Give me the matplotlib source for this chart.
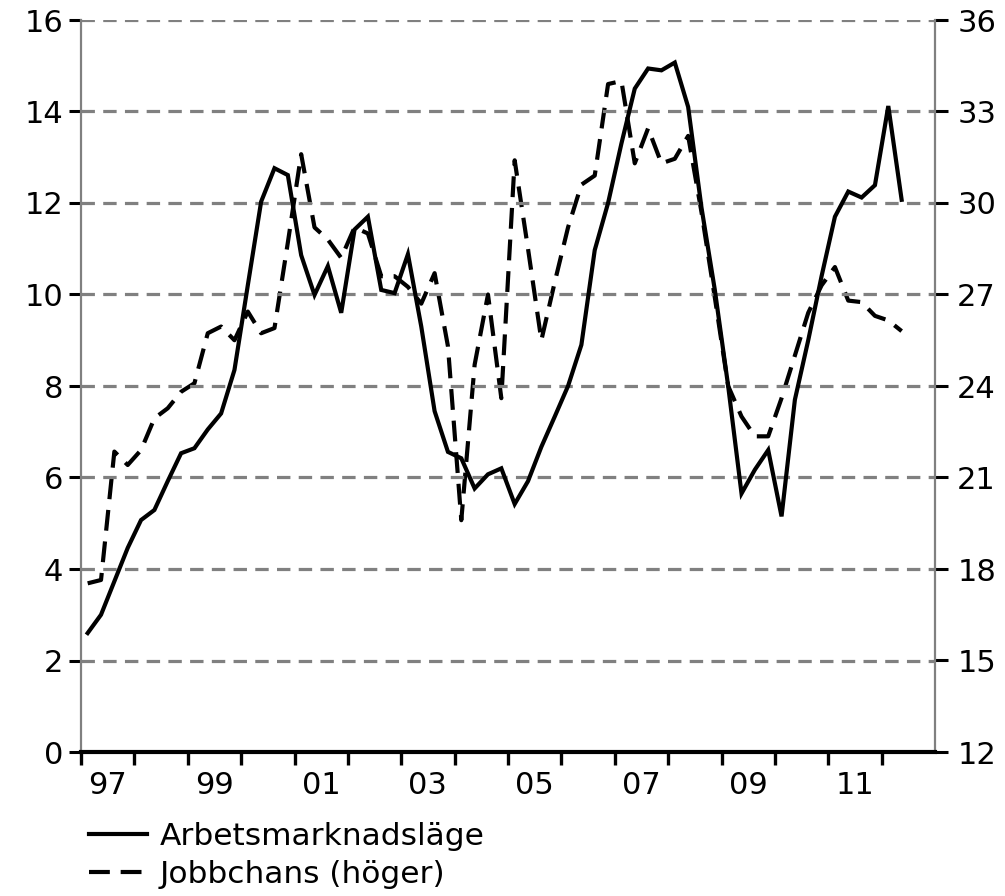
import matplotlib
matplotlib.use("Agg")
import matplotlib.pyplot as plt
import numpy as np

plt.rcParams['font.family'] = ['DejaVu Sans']

# Quarterly data 1997Q1 - 2012Q2
start_year = 1997
arbetsmarknadslage = [2.6, 3.0, 3.73, 4.46, 5.07, 5.29, 5.92, 6.53, 6.64, 7.05,
                      7.4, 8.35, 10.2, 12.03, 12.76, 12.61, 10.86, 9.99, 10.62, 9.6,
                      11.42, 11.7, 10.1, 10.03, 10.88, 9.3, 7.45, 6.56, 6.42, 5.76,
                      6.07, 6.2, 5.42, 5.92, 6.67, 7.33, 8.0, 8.9, 10.97, 12.0,
                      13.3, 14.5, 14.94, 14.9, 15.07, 14.1, 11.9, 10.1, 8.0, 5.65,
                      6.17, 6.6, 5.15, 7.7, 9.0, 10.4, 11.7, 12.25, 12.12, 12.39,
                      14.12, 12.07]
jobbchans = [17.53, 17.64, 21.85, 21.41, 21.9, 22.94, 23.27, 23.81, 24.09, 25.73,
             25.95, 25.5, 26.44, 25.73, 25.9, 28.7, 31.6, 29.2, 28.8, 28.2,
             29.2, 29.0, 27.6, 27.6, 27.25, 26.7, 27.7, 25.3, 19.6, 24.7,
             27.0, 23.6, 31.4, 28.5, 25.5, 27.4, 29.2, 30.6, 30.9, 33.9,
             34.0, 31.3, 32.45, 31.3, 31.45, 32.2, 29.7, 26.9, 24.0, 23.0,
             22.35, 22.35, 23.6, 25.0, 26.4, 27.3, 27.9, 26.8, 26.75, 26.3,
             26.15, 25.8]
year_labels = ['97', '99', '01', '03', '05', '07', '09', '11']
label_years = [1997, 1999, 2001, 2003, 2005, 2007, 2009, 2011]
left_ticks = [0, 2, 4, 6, 8, 10, 12, 14, 16]
right_ticks = [12, 15, 18, 21, 24, 27, 30, 33, 36]

x = start_year + (np.arange(len(arbetsmarknadslage)) + 0.5) / 4.0

W, H = 1005, 896
fig = plt.figure(figsize=(W / 100, H / 100), dpi=100)
L, R, T, B = 81, 935, 20, 752
ax = fig.add_axes([L / W, 1 - B / H, (R - L) / W, (B - T) / H])
ax2 = ax.twinx()

FS = 22
grey = '#808080'

ax.set_xlim(1997, 2013)
ax.set_ylim(0, 16)
ax2.set_ylim(12, 36)

for yv in left_ticks[1:]:
    ax.axhline(yv, color=grey, lw=2.3, linestyle=(0, (4.2, 2.6)), zorder=1)

l1, = ax.plot(x, arbetsmarknadslage, color='black', lw=3.0, solid_joinstyle='miter',
              zorder=3, label='Arbetsmarknadsläge')
l2, = ax2.plot(x, jobbchans, color='black', lw=3.0, linestyle=(0, (5, 2.6)),
               zorder=3, label='Jobbchans (höger)')

# spines
for a in (ax, ax2):
    a.spines['top'].set_visible(False)
ax.spines['left'].set_color(grey)
ax.spines['left'].set_linewidth(1.6)
ax2.spines['right'].set_color(grey)
ax2.spines['right'].set_linewidth(1.6)
ax.spines['bottom'].set_color('black')
ax.spines['bottom'].set_linewidth(3.0)
ax2.spines['bottom'].set_visible(False)
ax.spines['right'].set_visible(False)
ax2.spines['left'].set_visible(False)

# ticks
ax.set_yticks(left_ticks)
ax.set_yticklabels([str(v) for v in left_ticks])
ax2.set_yticks(right_ticks)
ax2.set_yticklabels([str(v) for v in right_ticks])
ax.tick_params(axis='y', direction='out', length=9, width=2.2, color='black',
               labelsize=FS, pad=4)
ax2.tick_params(axis='y', direction='out', length=9, width=2.2, color='black',
                labelsize=FS, pad=7)

ax.set_xticks(np.arange(1997, 2013))
ax.set_xticklabels([])
ax.set_xticks([y + 0.5 for y in label_years], minor=True)
ax.set_xticklabels(year_labels, minor=True)
ax.tick_params(axis='x', which='major', direction='out', length=9, width=2.4,
               color='black')
ax.tick_params(axis='x', which='minor', length=0, labelsize=FS, pad=14)

ax.set_zorder(ax2.get_zorder() + 1)
ax.patch.set_visible(False)

fig.legend(handles=[l1, l2], loc='upper left',
           bbox_to_anchor=(89 / W, 1 - 822 / H), frameon=False,
           fontsize=22.5, handlelength=1.85, handletextpad=0.4,
           labelspacing=0.3, borderpad=0, borderaxespad=0)

fig.savefig('out.png', dpi=100)
